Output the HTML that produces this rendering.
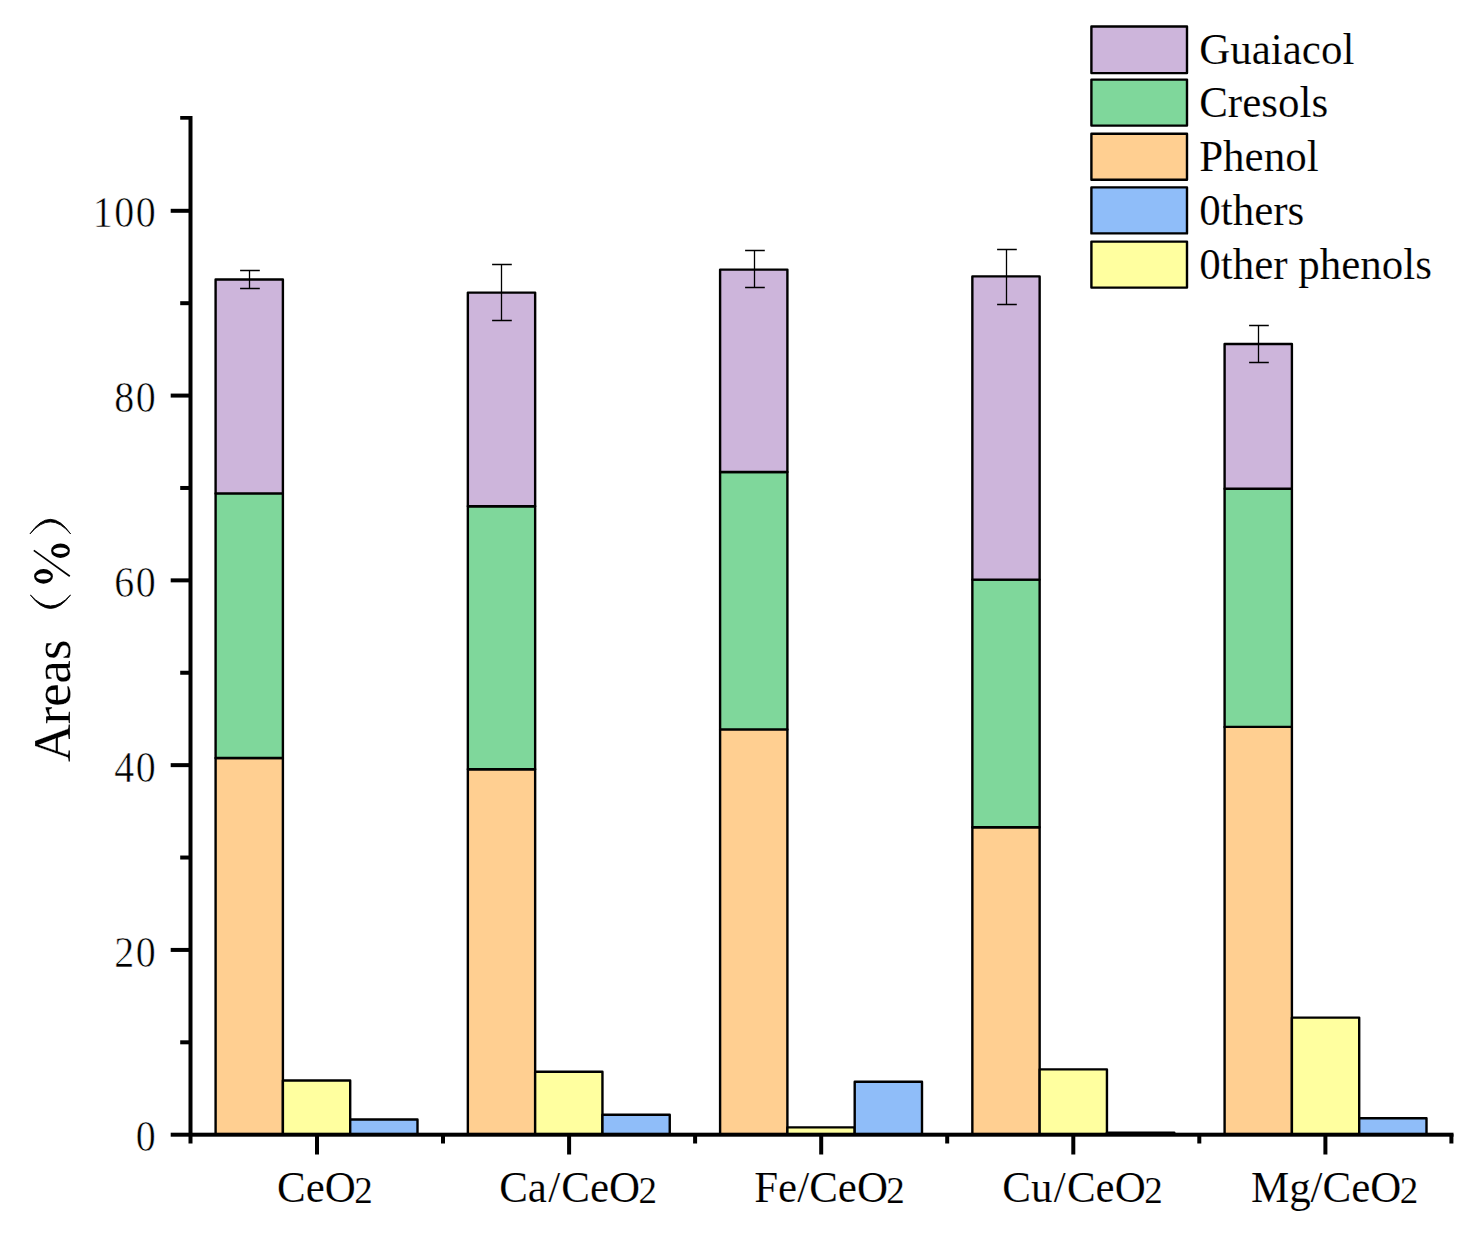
<!DOCTYPE html>
<html><head><meta charset="utf-8"><title>chart</title>
<style>html,body{margin:0;padding:0;background:#fff;}body{width:1477px;height:1237px;overflow:hidden;}svg{display:block;}text{font-family:"Liberation Serif",serif;fill:#000;font-kerning:none;}</style>
</head><body>
<svg width="1477" height="1237" viewBox="0 0 1477 1237">
<rect x="0" y="0" width="1477" height="1237" fill="#fff"/>
<g stroke="#000" stroke-width="2.40" stroke-linejoin="round">
<rect x="215.60" y="758.00" width="67.30" height="376.70" fill="#FFCF91"/>
<rect x="215.60" y="493.40" width="67.30" height="264.60" fill="#7FD79B"/>
<rect x="215.60" y="279.50" width="67.30" height="213.90" fill="#CDB5DB"/>
<rect x="282.90" y="1080.50" width="67.30" height="54.20" fill="#FFFF9F"/>
<rect x="350.20" y="1119.50" width="67.30" height="15.20" fill="#8FBDF9"/>
<rect x="467.85" y="769.30" width="67.30" height="365.40" fill="#FFCF91"/>
<rect x="467.85" y="506.30" width="67.30" height="263.00" fill="#7FD79B"/>
<rect x="467.85" y="292.60" width="67.30" height="213.70" fill="#CDB5DB"/>
<rect x="535.15" y="1071.80" width="67.30" height="62.90" fill="#FFFF9F"/>
<rect x="602.45" y="1114.80" width="67.30" height="19.90" fill="#8FBDF9"/>
<rect x="720.10" y="729.40" width="67.30" height="405.30" fill="#FFCF91"/>
<rect x="720.10" y="472.00" width="67.30" height="257.40" fill="#7FD79B"/>
<rect x="720.10" y="269.60" width="67.30" height="202.40" fill="#CDB5DB"/>
<rect x="787.40" y="1127.40" width="67.30" height="7.30" fill="#FFFF9F"/>
<rect x="854.70" y="1081.70" width="67.30" height="53.00" fill="#8FBDF9"/>
<rect x="972.35" y="827.20" width="67.30" height="307.50" fill="#FFCF91"/>
<rect x="972.35" y="579.60" width="67.30" height="247.60" fill="#7FD79B"/>
<rect x="972.35" y="276.40" width="67.30" height="303.20" fill="#CDB5DB"/>
<rect x="1039.65" y="1069.40" width="67.30" height="65.30" fill="#FFFF9F"/>
<rect x="1106.95" y="1132.60" width="67.30" height="2.10" fill="#8FBDF9"/>
<rect x="1224.60" y="726.90" width="67.30" height="407.80" fill="#FFCF91"/>
<rect x="1224.60" y="488.70" width="67.30" height="238.20" fill="#7FD79B"/>
<rect x="1224.60" y="344.00" width="67.30" height="144.70" fill="#CDB5DB"/>
<rect x="1291.90" y="1017.60" width="67.30" height="117.10" fill="#FFFF9F"/>
<rect x="1359.20" y="1118.30" width="67.30" height="16.40" fill="#8FBDF9"/>
</g>
<g stroke="#000" stroke-width="1.3" fill="none">
<path d="M249.50 270.50V288.50M240.10 270.50H259.80M240.10 288.50H259.80"/>
<path d="M501.50 264.50V320.50M492.10 264.50H511.80M492.10 320.50H511.80"/>
<path d="M754.50 250.50V287.50M745.10 250.50H764.80M745.10 287.50H764.80"/>
<path d="M1006.50 249.50V304.50M997.10 249.50H1016.80M997.10 304.50H1016.80"/>
<path d="M1258.50 325.50V362.50M1249.10 325.50H1268.80M1249.10 362.50H1268.80"/>
</g>
<g fill="#000">
<rect x="188.5" y="116" width="4" height="1027.5"/>
<rect x="170.7" y="1132.7" width="1282.8" height="4"/>
<rect x="180.2" y="116" width="10" height="3.7"/>
<rect x="180.2" y="1040.31" width="10" height="4"/>
<rect x="170.7" y="947.92" width="19" height="4"/>
<rect x="180.2" y="855.53" width="10" height="4"/>
<rect x="170.7" y="763.14" width="19" height="4"/>
<rect x="180.2" y="670.75" width="10" height="4"/>
<rect x="170.7" y="578.36" width="19" height="4"/>
<rect x="180.2" y="485.97" width="10" height="4"/>
<rect x="170.7" y="393.58" width="19" height="4"/>
<rect x="180.2" y="301.19" width="10" height="4"/>
<rect x="170.7" y="208.80" width="19" height="4"/>
<rect x="315.00" y="1134" width="4" height="20.5"/>
<rect x="567.10" y="1134" width="4" height="20.5"/>
<rect x="819.20" y="1134" width="4" height="20.5"/>
<rect x="1071.30" y="1134" width="4" height="20.5"/>
<rect x="1323.40" y="1134" width="4" height="20.5"/>
<rect x="441.00" y="1134" width="4" height="9.5"/>
<rect x="693.10" y="1134" width="4" height="9.5"/>
<rect x="945.20" y="1134" width="4" height="9.5"/>
<rect x="1197.30" y="1134" width="4" height="9.5"/>
<rect x="1449.40" y="1134" width="4" height="9.5"/>
</g>
<g font-size="43" letter-spacing="1.62" stroke="#fff" stroke-width="0.55" paint-order="fill stroke">
<text transform="translate(135.70,1151.30) scale(0.930,1.050)">0</text>
<text transform="translate(114.20,966.52) scale(0.930,1.050)">20</text>
<text transform="translate(114.20,781.74) scale(0.930,1.050)">40</text>
<text transform="translate(114.20,596.96) scale(0.930,1.050)">60</text>
<text transform="translate(114.20,412.18) scale(0.930,1.050)">80</text>
<text transform="translate(92.70,227.40) scale(0.930,1.050)">100</text>
</g>
<g font-size="43" stroke="#fff" stroke-width="0.15" paint-order="fill stroke">
<text transform="translate(277.00,1201.5) scale(1,1.050)">CeO<tspan font-size="37" dx="-1.6" dy="1.3">2</tspan></text>
<text transform="translate(499.20,1201.5) scale(1,1.050)">Ca<tspan dx="1.2">/</tspan><tspan dx="1.2">CeO</tspan><tspan font-size="37" dx="-1.6" dy="1.3">2</tspan></text>
<text transform="translate(754.20,1201.5) scale(1,1.050)">Fe/CeO<tspan font-size="37" dx="-1.6" dy="1.3">2</tspan></text>
<text transform="translate(1002.30,1201.5) scale(1,1.050)">Cu<tspan dx="1.2">/</tspan><tspan dx="1.3">CeO</tspan><tspan font-size="37" dx="-1.6" dy="1.3">2</tspan></text>
<text transform="translate(1250.90,1201.5) scale(1,1.050)">Mg/CeO<tspan font-size="37" dx="-1.6" dy="1.3">2</tspan></text>
</g>
<g stroke="#000" stroke-width="2.4" stroke-linejoin="round">
<rect x="1091.4" y="26.50" width="95.6" height="46.60" fill="#CDB5DB"/>
<rect x="1091.4" y="79.60" width="95.6" height="46.00" fill="#7FD79B"/>
<rect x="1091.4" y="133.80" width="95.6" height="46.00" fill="#FFCF91"/>
<rect x="1091.4" y="187.40" width="95.6" height="46.00" fill="#8FBDF9"/>
<rect x="1091.4" y="241.60" width="95.6" height="46.00" fill="#FFFF9F"/>
</g>
<g font-size="43" stroke="#fff" stroke-width="0.15" paint-order="fill stroke">
<text transform="translate(1199.2,64.00) scale(1,1.050)">Guaiacol</text>
<text transform="translate(1199.2,117.20) scale(1,1.050)">Cresols</text>
<text transform="translate(1199.2,171.20) scale(1,1.050)">Phenol</text>
<text transform="translate(1199.2,225.20) scale(1,1.050)">0thers</text>
<text transform="translate(1199.2,278.90) scale(1,1.050)">0ther phenols</text>
</g>
<g transform="translate(70.4,762.1) rotate(-90)">
<text x="0" y="0" font-size="52.5" stroke="#fff" stroke-width="0.15" paint-order="fill stroke">Areas</text>
</g>
<path fill-rule="evenodd" fill="#000" d="M51.10 550.70a9.4 7.3 0 1 0 18.8 0a9.4 7.3 0 1 0 -18.8 0ZM53.20 550.70a7.3 3.2 0 1 0 14.6 0a7.3 3.2 0 1 0 -14.6 0ZM34.10 576.40a9.4 7.3 0 1 0 18.8 0a9.4 7.3 0 1 0 -18.8 0ZM36.20 576.40a7.3 3.2 0 1 0 14.6 0a7.3 3.2 0 1 0 -14.6 0Z"/>
<path d="M33.8 550.4L69.8 576.2" stroke="#000" stroke-width="1.7" fill="none"/>
<g fill="#000" stroke="#000" stroke-width="0.9" stroke-linejoin="round">
<path d="M30.4 595.0Q50.5 621.8 70.5 595.0Q50.5 617.0 30.4 595.0Z"/>
<path d="M30.0 533.9Q50.3 504.8 70.6 533.9Q50.3 509.8 30.0 533.9Z"/>
</g>
</svg>
</body></html>
